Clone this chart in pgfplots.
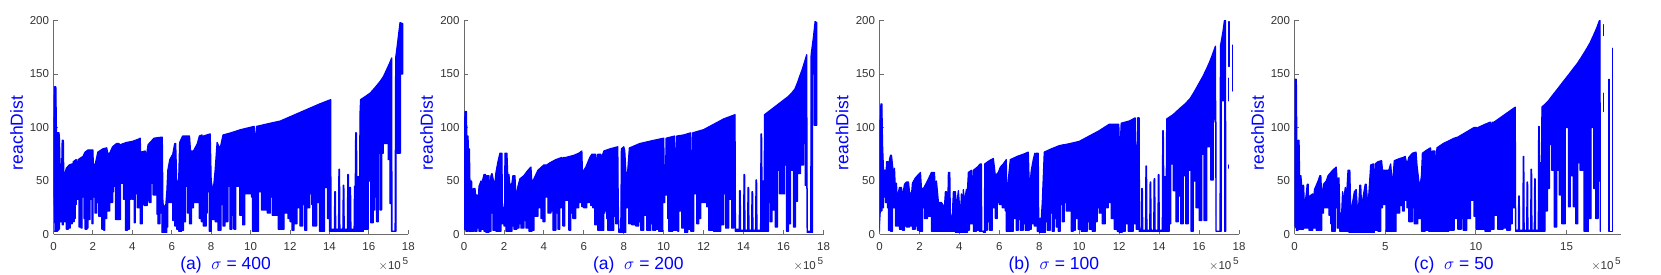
\documentclass[border=0pt]{standalone}
\usepackage{fontspec}
\setmainfont{Liberation Sans}
\usepackage{pgfplots}
\pgfplotsset{compat=1.18}
\definecolor{ax}{gray}{0.42}
\definecolor{lab}{gray}{0.2}
\pgfplotsset{
  panel/.style={
    scale only axis, anchor=south west, height=214pt, clip mode=individual,
    xmin=0,xmax=18,ymin=0,ymax=200,
    axis lines=left, axis line style={ax,line width=0.9pt,-},
    tick style={ax,line width=0.9pt},
    tickwidth=4.2pt, xtick pos=bottom, ytick pos=left, tick align=inside,
    ytick={0,50,100,150,200},
    tick label style={font=\fontsize{11.5}{12}\selectfont,text=lab},
    /pgf/number format/assume math mode=true,
    xticklabel style={yshift=-4.5pt}, yticklabel style={xshift=-1pt},
    ylabel={reachDist},
    ylabel style={font=\fontsize{17.5}{20}\selectfont,text=blue,at={(axis description cs:-0.104,0.474)},anchor=center},
    xlabel style={font=\fontsize{17.5}{20}\selectfont,text=blue,at={(axis description cs:0.485,-0.1425)},anchor=center},
  },
  env/.style={blue,line width=1.25pt,line join=round,line cap=round},
}
\newcommand{\tenfive}[1][0.958]{\node[text=lab,font=\fontsize{11.5}{12}\selectfont,anchor=center] at (axis description cs:#1,-0.138) {$\times$10\raisebox{5pt}{\fontsize{10}{11}\selectfont\,5}};}
% the upper edge is walked left to right, the lower edge right to left in steps (each depth holds up to the next reading)
\def\revstart(#1,#2)#3\endrev{\ifx\relax#3\relax\def\revout{(#1,#2)}\else\revstep{(#1,#2)}{#2}#3\endrev\fi}
\def\revstep#1#2(#3,#4)#5\endrev{\ifx\relax#5\relax\def\revout{(#3,#4)(#3,#2)#1}\else\revstep{(#3,#4)(#3,#2)#1}{#4}#5\endrev\fi}
\def\drawenv#1{\addplot[env,fill=blue] coordinates {#1};}
\newcommand\envelope[2]{\revstart#2\endrev\edef\full{#1\revout}\expandafter\drawenv\expandafter{\full}}
\begin{document}
\begin{tikzpicture}[x=1pt,y=1pt]
\useasboundingbox (0,0) rectangle (1661,275);
% ---------- panel 1
\begin{axis}[panel,at={(53.5pt,40.5pt)},width=354.8pt,xtick={0,2,...,18},xlabel={(a)\ \ $\sigma$ = 400}]
\envelope{(0,35)(0,110)(0.03,110)(0.05,138)(0.12,138)(0.15,95)(0.28,95)(0.3,90)(0.33,66)(0.42,66)(0.44,88)(0.5,88)(0.52,58)(0.6,58)(0.65,62)(0.8,65)(0.95,66)(0.97,60)(1.0,68)(1.15,70)(1.2,64)(1.25,70)(1.5,73)(1.6,77)(1.75,79)(2.0,79)(2.02,65)(2.12,66)(2.25,77)(2.5,80)(2.7,81)(2.75,76)(2.85,76)(3.0,82)(3.2,85)(3.33,85)(3.35,60)(3.4,84)(3.7,86)(4.0,87)(4.3,89)(4.4,90)(4.42,77)(4.65,78)(4.7,72)(4.8,84)(5.0,88)(5.1,90)(5.5,91)(5.52,91)(5.55,30)(5.6,25)(5.7,28)(5.75,40)(5.8,60)(5.9,70)(6.05,75)(6.15,85)(6.2,85)(6.25,50)(6.35,50)(6.4,86)(6.55,92)(6.9,92)(6.95,78)(7.1,78)(7.3,85)(7.4,92)(7.53,93)(7.55,60)(7.6,92)(7.95,94)(8.0,50)(8.1,40)(8.2,60)(8.3,86)(8.45,80)(8.6,93)(9.0,95)(9.5,98)(10.18,101)(10.2,90)(10.25,90)(10.3,101)(11,104)(11.5,106)(12,110)(12.5,114)(13,118)(13.5,122)(14.06,126)(14.08,5)(14.25,5)(14.27,40)(14.3,40)(14.32,5)(14.46,5)(14.48,61)(14.51,61)(14.53,5)(14.68,5)(14.7,46)(14.73,46)(14.75,5)(14.91,5)(14.93,56)(14.96,56)(14.98,5)(15.02,5)(15.04,44)(15.07,44)(15.09,5)(15.25,5)(15.27,45)(15.31,45)(15.33,95)(15.37,95)(15.39,54)(15.53,54)(15.55,113)(15.58,126)(16.06,132)(16.3,137)(16.57,143)(16.75,148)(16.9,154)(17.05,160)(17.16,165)(17.17,3)(17.33,3)(17.36,165)(17.45,178)(17.58,198)(17.72,197)}{(0.05,3)(0.2,4)(0.25,5)(0.3,20)(0.35,12)(0.4,20)(0.45,9)(0.5,16)(0.55,12)(0.65,5)(0.75,6)(0.85,10)(0.95,12)(1.05,15)(1.1,28)(1.15,35)(1.2,33)(1.3,7)(1.4,6)(1.45,35)(1.55,15)(1.6,5)(1.7,6)(1.75,14)(1.85,33)(1.95,10)(2.0,35)(2.1,20)(2.2,30)(2.3,17)(2.4,30)(2.45,5)(2.55,4)(2.6,15)(2.7,22)(2.85,30)(3.0,40)(3.05,45)(3.15,14)(3.25,14)(3.35,14)(3.4,48)(3.55,33)(3.65,4)(3.75,5)(3.85,33)(3.95,45)(4.0,33)(4.1,11)(4.15,38)(4.25,25)(4.35,40)(4.4,10)(4.5,28)(4.6,27)(4.75,32)(4.85,30)(4.95,48)(5.05,37)(5.15,37)(5.25,19)(5.3,10)(5.4,20)(5.5,2)(5.65,2)(5.75,7)(5.8,30)(5.95,30)(6.05,13)(6.15,8)(6.25,5)(6.35,3)(6.5,4)(6.6,12)(6.7,45)(6.8,20)(6.9,10)(7.0,25)(7.1,30)(7.3,30)(7.4,15)(7.5,12)(7.6,8)(7.75,20)(7.8,40)(7.9,3)(8.0,14)(8.15,15)(8.2,12)(8.35,4)(8.5,28)(8.6,8)(8.7,12)(8.85,45)(8.95,5)(9.05,18)(9.15,5)(9.25,45)(9.45,18)(9.6,9)(9.7,38)(9.85,38)(10.05,35)(10.1,3)(10.3,3)(10.4,40)(10.55,23)(10.75,23)(10.85,20)(11.0,35)(11.1,18)(11.3,18)(11.4,5)(11.6,5)(11.7,20)(11.9,15)(12.0,12)(12.1,4)(12.2,10)(12.35,25)(12.5,8)(12.65,28)(12.75,4)(12.85,25)(13,38)(13.1,28)(13.15,8)(13.35,30)(13.5,3)(13.65,3)(13.75,44)(13.9,15)(14.0,3)(15.6,3)(15.72,5)(15.89,5)(15.97,50)(16.09,11)(16.22,23)(16.3,35)(16.39,12)(16.48,76)(16.56,23)(16.65,76)(16.73,85)(16.85,85)(16.98,70)(17.07,29)(17.15,3)(17.33,3)(17.38,120)(17.43,76)(17.55,76)(17.6,150)(17.72,160)}
\tenfive
\end{axis}
% ---------- panel 2
\begin{axis}[panel,at={(464pt,40.5pt)},width=359.5pt,xtick={0,2,...,18},xlabel={(a)\ \ $\sigma$ = 200}]
\envelope{(0,5)(0,93)(0.02,93)(0.05,115)(0.12,115)(0.14,92)(0.2,92)(0.22,80)(0.27,80)(0.3,45)(0.33,50)(0.38,50)(0.42,30)(0.48,43)(0.55,43)(0.58,37)(0.65,37)(0.7,25)(0.75,45)(0.85,50)(0.9,48)(1.0,56)(1.08,56)(1.1,40)(1.15,55)(1.25,55)(1.28,40)(1.35,55)(1.4,57)(1.48,50)(1.55,48)(1.6,58)(1.7,68)(1.8,76)(1.9,76)(1.92,30)(2.03,14)(2.05,76)(2.15,76)(2.2,50)(2.25,56)(2.3,45)(2.4,48)(2.45,55)(2.55,55)(2.6,35)(2.7,45)(2.8,52)(3.0,55)(3.2,60)(3.35,63)(3.4,48)(3.5,52)(3.7,60)(4.0,65)(4.15,65)(4.3,67)(4.6,70)(4.9,72)(4.92,55)(4.98,72)(5.1,72)(5.5,74)(5.75,76)(5.9,78)(5.93,58)(6.1,63)(6.3,72)(6.4,75)(6.6,75)(6.65,60)(6.7,75)(6.85,75)(6.9,72)(7.0,78)(7.3,80)(7.7,82)(7.72,35)(7.75,5)(7.85,5)(7.88,80)(8.0,82)(8.05,78)(8.1,60)(8.15,50)(8.2,60)(8.28,81)(8.3,81)(8.8,85)(9.5,88)(10,90)(10.02,65)(10.1,65)(10.12,90)(10.55,92)(10.57,65)(10.63,65)(10.65,92)(11,93)(11.35,95)(11.37,60)(11.42,60)(11.45,95)(12,98)(12.5,103)(13,108)(13.57,112)(13.59,5)(13.78,5)(13.8,41)(13.83,41)(13.85,4)(14,4)(14.02,56)(14.05,56)(14.07,4)(14.2,4)(14.22,44)(14.25,44)(14.27,4)(14.4,4)(14.42,40)(14.45,40)(14.47,4)(14.6,4)(14.62,51)(14.65,51)(14.67,4)(14.85,4)(14.87,94)(14.9,94)(14.92,50)(15.03,50)(15.05,112)(15.47,118)(15.82,123)(16.24,129)(16.4,132)(16.57,136)(16.7,142)(16.83,149)(16.93,154)(17.03,160)(17.16,168)(17.18,3)(17.36,3)(17.38,168)(17.5,185)(17.58,199)(17.66,198)}{(0.1,3)(0.2,22)(0.25,3)(0.4,3)(0.5,10)(0.55,3)(0.65,6)(0.75,3)(0.85,5)(1.0,3)(1.1,2)(1.25,3)(1.35,20)(1.45,4)(1.6,3)(1.75,3)(1.85,10)(2.0,8)(2.1,3)(2.25,3)(2.4,8)(2.5,5)(2.65,6)(2.75,10)(2.85,6)(3.0,13)(3.1,6)(3.25,3)(3.4,4)(3.5,17)(3.7,25)(3.8,27)(3.85,15)(3.95,12)(4.05,40)(4.1,35)(4.2,20)(4.35,22)(4.45,4)(4.6,20)(4.7,5)(4.8,25)(4.95,8)(5.05,32)(5.25,4)(5.35,20)(5.45,15)(5.6,25)(5.75,30)(5.9,26)(6.0,25)(6.15,30)(6.25,30)(6.35,27)(6.45,25)(6.55,9)(6.65,22)(6.7,4)(6.85,4)(7.0,20)(7.05,22)(7.15,15)(7.2,4)(7.4,4)(7.5,17)(7.6,10)(7.75,2)(8.0,2)(8.1,25)(8.25,10)(8.4,9)(8.6,8)(8.75,12)(8.85,4)(9.0,18)(9.15,4)(9.35,10)(9.45,4)(9.6,5)(9.7,12)(9.75,3)(9.85,3)(9.95,30)(10.05,37)(10.2,15)(10.25,3)(10.45,10)(10.5,4)(10.7,3)(10.75,22)(10.9,6)(11.05,2)(11.2,5)(11.35,3)(11.5,38)(11.6,40)(11.65,10)(11.75,15)(11.85,30)(12.0,30)(12.15,26)(12.25,4)(12.5,3)(12.65,3)(12.85,9)(13,38)(13.1,6)(13.25,33)(13.4,6)(13.5,32)(13.58,3)(15.1,3)(15.25,30)(15.33,12)(15.42,23)(15.58,7)(15.7,60)(15.8,38)(15.95,38)(16.05,65)(16.15,3)(16.25,10)(16.35,60)(16.5,7)(16.6,31)(16.7,57)(16.85,65)(17.0,85)(17.08,46)(17.16,43)(17.18,2)(17.36,2)(17.45,165)(17.5,150)(17.54,102)(17.66,102)}
\tenfive
\end{axis}
% ---------- panel 3
\begin{axis}[panel,at={(879.5pt,40.5pt)},width=359.5pt,xtick={0,2,...,18},xlabel={(b)\ \ $\sigma$ = 100}]
\envelope{(0,3)(0,107)(0.05,107)(0.07,122)(0.12,122)(0.15,85)(0.2,60)(0.3,60)(0.32,45)(0.35,68)(0.42,68)(0.45,62)(0.5,70)(0.55,74)(0.6,74)(0.65,65)(0.7,55)(0.75,62)(0.78,48)(0.85,48)(0.88,34)(1.0,44)(1.1,44)(1.15,35)(1.25,47)(1.35,49)(1.45,49)(1.5,40)(1.6,37)(1.65,48)(1.8,53)(2.0,57)(2.05,58)(2.1,43)(2.2,43)(2.4,50)(2.6,58)(2.75,58)(2.8,40)(2.85,50)(2.95,30)(3.1,30)(3.25,25)(3.3,40)(3.35,40)(3.4,10)(3.45,58)(3.52,58)(3.55,12)(3.65,20)(3.7,40)(3.8,40)(3.85,25)(3.95,41)(4.05,15)(4.1,38)(4.15,25)(4.2,42)(4.25,30)(4.35,42)(4.4,40)(4.45,58)(4.6,60)(4.65,40)(4.7,60)(4.9,63)(5.05,66)(5.1,66)(5.12,3)(5.25,3)(5.27,66)(5.5,69)(5.7,71)(5.8,55)(5.95,58)(6.05,63)(6.2,66)(6.35,70)(6.37,15)(6.42,45)(6.5,61)(6.55,70)(6.9,73)(7.2,75)(7.45,77)(7.5,45)(7.55,50)(7.6,60)(7.7,70)(7.78,76)(7.82,60)(7.85,76)(7.95,76)(7.97,15)(8.1,15)(8.15,30)(8.25,77)(8.6,80)(9.0,83)(9.25,84)(9.27,65)(9.3,84)(10,87)(10.5,92)(11,97)(11.5,103)(11.98,103)(12,90)(12.07,90)(12.1,104)(12.5,106)(12.8,109)(12.82,85)(12.9,60)(12.92,109)(13,109)(13.02,5)(13.11,5)(13.13,43)(13.16,43)(13.18,4)(13.32,4)(13.34,64)(13.37,64)(13.39,4)(13.53,4)(13.55,49)(13.58,49)(13.6,4)(13.73,4)(13.75,52)(13.78,52)(13.8,4)(13.94,4)(13.96,56)(13.99,56)(14.01,4)(14.16,4)(14.18,97)(14.21,97)(14.23,54)(14.36,54)(14.38,108)(14.7,112)(15.05,118)(15.3,122)(15.55,127)(15.75,133)(15.96,140)(16.2,148)(16.38,155)(16.5,160)(16.63,166)(16.82,176)(16.85,3)(17.05,3)(17.07,176)(17.2,190)(17.27,200)(17.32,200)(17.34,3)}{(0.07,22)(0.12,25)(0.2,35)(0.3,30)(0.35,35)(0.4,25)(0.45,4)(0.55,3)(0.65,30)(0.7,25)(0.8,8)(1.0,5)(1.15,4)(1.25,8)(1.35,7)(1.5,8)(1.65,5)(1.8,8)(1.9,4)(2.0,3)(2.1,3)(2.15,25)(2.25,15)(2.4,17)(2.55,20)(2.6,3)(3,3)(3.3,3)(3.5,3)(3.8,2)(4.2,2)(4.4,4)(4.5,10)(4.7,3)(4.85,4)(5.0,3)(5.2,2)(5.3,4)(5.4,12)(5.5,4)(5.65,25)(5.7,25)(5.8,15)(5.9,30)(6.0,28)(6.15,25)(6.3,22)(6.35,3)(6.6,3)(6.7,15)(6.85,4)(6.95,14)(7.05,4)(7.2,10)(7.3,4)(7.5,5)(7.6,10)(7.75,8)(7.9,3)(8.0,2)(8.2,2)(8.3,12)(8.4,4)(8.55,20)(8.65,3)(8.75,15)(8.85,7)(8.95,3)(9.05,28)(9.15,12)(9.25,30)(9.35,22)(9.45,22)(9.6,3)(9.7,4)(9.8,15)(9.95,5)(10.1,3)(10.3,3)(10.4,12)(10.5,5)(10.65,3)(10.8,12)(10.9,25)(11.0,20)(11.15,10)(11.3,25)(11.45,30)(11.6,15)(11.75,5)(11.9,3)(12,2)(12.15,3)(12.3,10)(12.45,3)(12.6,3)(12.7,10)(12.85,5)(13,3)(14.38,3)(14.51,10)(14.58,66)(14.71,41)(14.84,12)(14.96,36)(15.08,10)(15.21,55)(15.33,10)(15.46,60)(15.6,3)(15.71,50)(15.85,25)(16.01,13)(16.13,75)(16.25,13)(16.38,82)(16.58,51)(16.71,108)(16.8,105)(16.85,3)(17.05,3)(17.11,125)(17.28,3)(17.34,3)}
\addplot[env] coordinates {(17.46,125)(17.46,146)};
\addplot[env] coordinates {(17.5,157)(17.5,199)};
\addplot[env] coordinates {(17.47,62)(17.47,65)};
\addplot[env] coordinates {(17.67,134)(17.67,177)};
\tenfive
\end{axis}
% ---------- panel 4
\begin{axis}[panel,at={(1294.5pt,40.5pt)},width=326.5pt,xtick={0,5,10,15},xlabel={(c)\ \ $\sigma$ = 50},
  ylabel style={at={(axis description cs:-0.113,0.474)}},
  xlabel style={at={(axis description cs:0.488,-0.1425)}}]
\envelope{(0,8)(0,40)(0.02,145)(0.1,145)(0.13,80)(0.2,88)(0.25,88)(0.28,55)(0.35,55)(0.4,45)(0.5,46)(0.55,25)(0.65,38)(0.7,47)(0.75,47)(0.78,30)(0.85,36)(1.0,38)(1.05,30)(1.1,42)(1.3,50)(1.4,55)(1.45,55)(1.5,35)(1.6,47)(1.75,50)(1.85,55)(2.1,60)(2.3,63)(2.35,50)(2.45,53)(2.5,20)(2.6,20)(2.65,40)(2.7,30)(2.8,44)(2.85,30)(2.95,60)(3.05,60)(3.1,20)(3.3,40)(3.4,42)(3.5,15)(3.6,46)(3.65,46)(3.7,25)(3.8,37)(3.9,47)(3.95,47)(4.05,25)(4.2,65)(4.35,66)(4.4,30)(4.45,66)(4.6,68)(4.8,69)(4.85,60)(5.2,60)(5.3,66)(5.4,45)(5.5,69)(5.8,71)(6,72)(6.1,73)(6.2,65)(6.3,72)(6.5,76)(6.7,77)(6.75,65)(6.9,43)(7.0,55)(7.05,76)(7.3,79)(7.5,81)(7.55,65)(7.6,78)(7.75,78)(7.77,30)(7.85,81)(8.2,85)(8.8,90)(9,91)(9.5,96)(9.9,100)(10.05,100)(10.08,80)(10.12,100)(10.5,103)(10.8,105)(10.85,95)(10.9,105)(11,105)(11.5,111)(12,117)(12.17,119)(12.19,4)(12.34,4)(12.36,36)(12.39,36)(12.41,4)(12.59,4)(12.61,73)(12.64,73)(12.66,4)(12.8,4)(12.82,49)(12.85,49)(12.87,4)(13.02,4)(13.04,61)(13.07,61)(13.09,4)(13.22,4)(13.24,52)(13.27,52)(13.29,4)(13.44,4)(13.46,101)(13.49,101)(13.51,67)(13.62,67)(13.64,119)(14,125)(14.27,131)(14.55,137)(14.82,143)(15.1,149)(15.37,155)(15.6,160)(15.83,166)(16.05,172)(16.29,179)(16.48,186)(16.66,193)(16.81,200)(16.84,200)(16.86,3)}{(0.1,4)(0.2,27)(0.25,5)(0.4,5)(0.5,6)(0.8,4)(1,6)(1.2,4)(1.4,4)(1.5,20)(1.6,25)(1.85,25)(1.9,18)(2.0,10)(2.05,3)(2.2,3)(2.25,25)(2.35,6)(2.5,3)(3,2)(4,2)(4.4,4)(4.6,3)(4.75,25)(4.85,28)(5.05,3)(5.5,3)(5.6,20)(5.8,27)(5.95,22)(6.05,32)(6.2,25)(6.3,12)(6.5,25)(6.6,10)(6.8,15)(7.0,3)(7.2,4)(7.4,3)(8,3)(8.5,4)(8.8,15)(9,5)(9.2,15)(9.3,4)(9.5,15)(9.7,32)(9.9,17)(10,5)(10.2,5)(10.5,3)(10.8,5)(11,18)(11.2,5)(11.5,6)(11.7,4)(11.9,10)(12.0,25)(12.19,3)(13.72,3)(13.81,22)(13.94,43)(14.05,84)(14.18,60)(14.32,7)(14.45,60)(14.6,37)(14.73,10)(14.92,100)(15.1,26)(15.2,55)(15.37,26)(15.5,10)(15.61,67)(15.74,60)(15.96,3)(16.07,3)(16.2,15)(16.35,100)(16.5,43)(16.6,15)(16.74,50)(16.86,3)}
\addplot[env] coordinates {(17.04,186)(17.04,196)};
\addplot[env] coordinates {(17.04,115)(17.04,132)};
\addplot[env] coordinates {(17.34,145)(17.34,3)(17.54,3)(17.54,174)};
\tenfive[0.954]
\end{axis}
\end{tikzpicture}
\end{document}
